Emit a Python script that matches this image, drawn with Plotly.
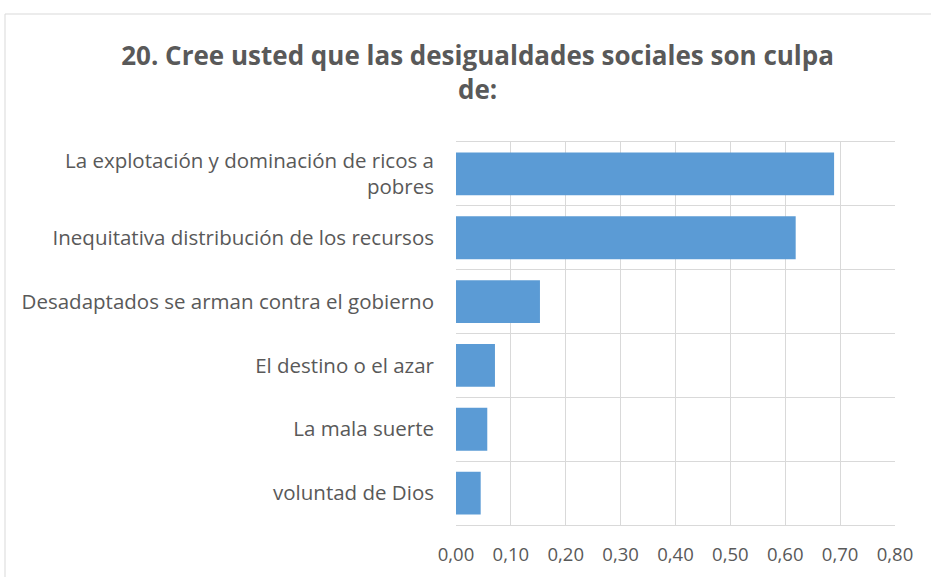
import plotly.graph_objects as go

categories = [
    "La explotación y dominación de ricos a<br>pobres",
    "Inequitativa distribución de los recursos",
    "Desadaptados se arman contra el gobierno",
    "El destino o el azar",
    "La mala suerte",
    "voluntad de Dios",
]
values = [0.689, 0.619, 0.153, 0.071, 0.057, 0.045]
title_text = "<b>20. Cree usted que las desigualdades sociales son culpa<br>de:</b>"

fig = go.Figure(go.Bar(
    x=values,
    y=categories,
    orientation="h",
    marker=dict(color="#5B9BD5", line=dict(width=0)),
    width=0.67,
))

W, H = 931, 577
L, R, T, B = 456, 36, 142, 52
pw, ph = W - L - R, H - T - B

def px_x(p):
    return (p - L) / pw

def px_y(p):
    return (H - B - p) / ph

fig.update_layout(
    width=W, height=H,
    margin=dict(l=L, r=R, t=T, b=B, autoexpand=False),
    paper_bgcolor="white",
    plot_bgcolor="white",
    separators=",.",
    font=dict(family="Open Sans", color="#595959"),
    title=dict(
        text=title_text,
        x=0.513, xanchor="center",
        y=0.887, yanchor="top",
        font=dict(family="Open Sans", size=26, color="#595959"),
    ),
    xaxis=dict(
        range=[0, 0.8], dtick=0.1, tick0=0, tickformat=".2f",
        showgrid=True, gridcolor="#D9D9D9", gridwidth=1,
        zeroline=False, showline=True, mirror=True, linecolor="#D9D9D9", linewidth=1,
        automargin=False,
        tickfont=dict(size=18.5, color="#595959"),
        ticks="", ticklabelstandoff=13,
    ),
    yaxis=dict(
        categoryorder="array", categoryarray=categories[::-1],
        tickson="boundaries", showgrid=True, gridcolor="#D9D9D9", gridwidth=1,
        ticks="", zeroline=False, showline=False,
        automargin=False,
        tickfont=dict(size=20.5, color="#595959"),
        ticklabelstandoff=21,
    ),
    shapes=[dict(
        type="rect", xref="paper", yref="paper",
        x0=px_x(5), x1=px_x(960), y0=px_y(600), y1=px_y(14),
        line=dict(color="#D9D9D9", width=1), fillcolor="rgba(0,0,0,0)",
        layer="below",
    )],
)

fig.write_html("out.html", config={"displayModeBar": False},
               post_script="document.body.style.margin='0';")
